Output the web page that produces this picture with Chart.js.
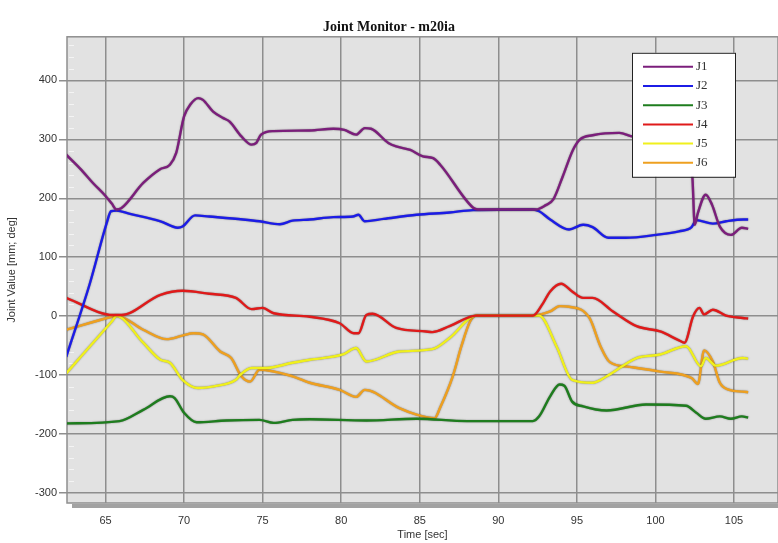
<!DOCTYPE html>
<html><head><meta charset="utf-8">
<script src="https://cdn.jsdelivr.net/npm/chart.js@4"></script>
<style>html,body{margin:0;padding:0;background:#fff}</style>
</head><body>
<canvas id="c" width="778" height="543"></canvas>
<script>
const seriesNames = ['J1','J2','J3','J4','J5','J6'];
const seriesColors = ['#7b1e7b','#1c1ce6','#1e7d1e','#e01a1a','#f0f01c','#eea020'];
const xTickValues = [65,70,75,80,85,90,95,100,105];
const yTickValues = [-300,-200,-100,0,100,200,300,400];

const j1Time = [62.5,63.4,64.2,65.0,65.4,65.7,66.0,67.4,68.45,69.1,69.5,70.0,70.4,70.9,71.2,71.85,72.5,72.9,73.65,74.3,74.6,74.9,75.7,78.0,79.5,80.2,80.95,81.5,81.9,83.0,83.5,84.4,85.2,85.85,86.3,88.4,88.7,92.4,93.0,93.5,94.1,94.75,95.2,96.0,97.7,98.5,100,101.5,102.2,102.35,102.5,102.7,103.2,103.6,104.1,104.8,105.5,105.9];
const j1Value = [274,250,226,204,191,181,183,226,249,257,277,339,359,370,367,347,336,330,305,291,294,308,314,315,318,316,308,319,318,294,288,282,271,268,257,184,181,181,188,198,237,282,300,307,311,305,298,290,262,237,155,175,206,189,152,138,150,148];

const j2Time = [62.5,64.0,65.1,65.35,65.7,66.5,68.5,69.6,69.9,70.7,71.6,73.75,74.8,76.1,76.9,78,79.5,80.75,81.1,81.5,82.7,84.8,86.9,88.4,92.2,92.6,93.3,94.5,95.4,96.0,97.0,98.1,100.05,101.5,102.3,102.6,103.65,104.5,105.6,105.9];
const j2Value = [-69,55,160,178,179,174,161,150,152,171,169,164,161,156,162,164,168,169,172,161,165,172,176,180,181,178,164,147,155,151,133,133,138,144,151,163,157,161,164,164];

const j3Time = [62.5,65.9,67.4,69.1,69.4,70.0,70.8,72.7,74.8,75.7,76.9,78,81.6,84.8,88,92.2,92.6,93.3,93.9,94.2,94.7,95.4,96.9,99.4,101.95,102.6,103.2,104.1,104.8,105.5,105.9];
const j3Value = [-182,-178,-159,-136,-139,-164,-180,-177,-176,-181,-176,-175,-177,-174,-178,-178,-170,-136,-116,-118,-145,-153,-160,-150,-152,-164,-174,-170,-174,-170,-172];

const j4Time = [62.5,65.5,66.0,68.5,69.9,71.6,73.3,74.3,75.0,75.7,78,79.9,80.8,81.1,81.6,82.0,83.5,85.4,85.8,86.9,88.6,92.2,92.8,93.3,94.0,94.7,95.4,96.0,97.3,98.8,100.3,101.5,101.85,102.4,102.8,103.1,103.65,104.5,105.55,105.9];
const j4Value = [31,2,2,36,43,38,31,12,14,5,-1,-12,-29,-29,2,4,-20,-26,-27,-17,1,1,20,42,55,42,31,31,8,-17,-26,-41,-45,0,14,3,11,1,-3,-4];

const j5Time = [62.5,65.4,65.7,67.4,68.5,69.1,69.9,70.9,71.9,73.3,73.6,74.3,75.2,76.9,78,80.1,80.95,81.6,83.7,85.8,86.9,88.6,92.6,93.7,94.7,96,96.9,98.8,100.3,101.95,102.9,103.2,103.85,105.55,105.9];
const j5Value = [-97,-9,0,-45,-74,-79,-108,-122,-119,-108,-99,-88,-88,-79,-74,-65,-54,-77,-60,-56,-37,1,1,-51,-108,-113,-102,-71,-65,-51,-85,-71,-84,-71,-72];

const j6Time = [62.5,65.4,65.7,67.4,68.9,69.9,70.6,71.2,72.3,73.0,73.65,74.2,74.8,76.9,78,79.9,80.95,81.5,83.7,84.8,85.95,86.3,87.1,87.65,88.2,88.6,92.2,93.3,93.9,94.5,95.8,96.5,97.1,98.35,100.3,102.3,102.7,103.1,103.65,104.1,104.7,105.55,105.9];
const j6Value = [-23,-1,1,-23,-39,-33,-29,-31,-60,-71,-102,-111,-91,-102,-113,-125,-137,-125,-156,-167,-173,-155,-102,-51,-9,1,1,8,17,16,-3,-51,-78,-86,-94,-105,-115,-58,-77,-113,-125,-128,-129];

const allTimes = [j1Time,j2Time,j3Time,j4Time,j5Time,j6Time];
const allValues = [j1Value,j2Value,j3Value,j4Value,j5Value,j6Value];

const datasets = seriesNames.map((name,i)=>({
  label: name,
  data: allTimes[i].map((t,k)=>({x:t,y:allValues[i][k]})),
  borderColor: seriesColors[i],
  backgroundColor: seriesColors[i],
  borderWidth: 2.4,
  pointRadius: 0,
  cubicInterpolationMode: 'monotone',
  fill: false
}));

const decor = {
  id: 'decor',
  beforeDraw(chart){
    const {ctx, chartArea:a} = chart;
    ctx.save();
    ctx.fillStyle = '#e2e2e2';
    ctx.fillRect(a.left, a.top, a.right-a.left, a.bottom-a.top);
    ctx.restore();
  },
  beforeDatasetsDraw(chart){
    const {ctx, chartArea:a} = chart;
    const ys = chart.scales.y;
    ctx.save();
    ctx.strokeStyle = '#f4f4f4';
    ctx.lineWidth = 1;
    for (let v=-300; v<=460; v+=20){
      if (v%100===0) continue;
      const py = Math.round(ys.getPixelForValue(v))+0.5;
      ctx.beginPath(); ctx.moveTo(a.left+2, py); ctx.lineTo(a.left+7, py); ctx.stroke();
    }
    ctx.strokeStyle = '#8e8e8e';
    ctx.lineWidth = 1.5;
    ctx.strokeRect(a.left, a.top, a.right-a.left, a.bottom-a.top);
    ctx.fillStyle = '#a2a2a2';
    ctx.fillRect(a.left+5, a.bottom+1, a.right-a.left-5, 4);
    ctx.restore();
  },
  beforeDatasetDraw(chart){
    const ctx = chart.ctx;
    ctx.save();
    ctx.shadowColor = 'rgba(40,40,40,0.55)';
    ctx.shadowBlur = 1.5;
  },
  afterDatasetDraw(chart){
    chart.ctx.restore();
  },
  afterDraw(chart){
    const {ctx, chartArea:a} = chart;
    const bx = a.right-146, by = a.top+16, bw = 103, bh = 124;
    ctx.save();
    ctx.fillStyle = '#ffffff';
    ctx.fillRect(bx, by, bw, bh);
    ctx.strokeStyle = '#222';
    ctx.lineWidth = 1;
    ctx.strokeRect(bx+0.5, by+0.5, bw, bh);
    ctx.font = '13px "Liberation Serif", serif';
    ctx.textBaseline = 'middle';
    chart.data.datasets.forEach((ds,i)=>{
      const y = by + 14 + i*19.2;
      ctx.strokeStyle = ds.borderColor;
      ctx.lineWidth = 2;
      ctx.beginPath(); ctx.moveTo(bx+11, y); ctx.lineTo(bx+61, y); ctx.stroke();
      ctx.fillStyle = '#333';
      ctx.fillText(ds.label, bx+64, y);
    });
    ctx.restore();
  }
};

new Chart(document.getElementById('c'), {
  type: 'line',
  data: { datasets },
  options: {
    responsive: false,
    animation: false,
    layout: { padding: 0 },
    plugins: {
      legend: { display: false },
      tooltip: { enabled: false },
      title: {
        display: true,
        text: 'Joint Monitor - m20ia',
        color: '#111',
        font: { family: '"Liberation Serif", serif', size: 14, weight: 'bold' },
        padding: { top: 19, bottom: 1 }
      }
    },
    scales: {
      x: {
        type: 'linear',
        min: 62.55, max: 107.8,
        afterFit(s){ s.height = 40; },
        afterBuildTicks(s){ s.ticks = xTickValues.map(v=>({value:v})); },
        grid: { color: '#8e8e8e', lineWidth: 1.5, drawTicks: false },
        border: { display: false },
        ticks: { color: '#333', padding: 11, font: { family: '"Liberation Sans", sans-serif', size: 11 }, maxRotation: 0 },
        title: { display: true, text: 'Time [sec]', color: '#333', font: { family: '"Liberation Sans", sans-serif', size: 11 }, padding: { top: 0, bottom: 1.4 } }
      },
      y: {
        type: 'linear',
        min: -317, max: 474,
        afterFit(s){ s.width = 67; },
        afterBuildTicks(s){ s.ticks = yTickValues.map(v=>({value:v})); },
        grid: { color: '#8e8e8e', lineWidth: 1.5, tickLength: 8 },
        border: { display: false },
        ticks: { color: '#333', padding: 2, font: { family: '"Liberation Sans", sans-serif', size: 11 } },
        title: { display: true, text: 'Joint Value [mm; deg]', color: '#333', font: { family: '"Liberation Sans", sans-serif', size: 11 }, padding: { top: 5.4, bottom: 0 } }
      }
    }
  },
  plugins: [decor]
});
</script>
</body></html>
